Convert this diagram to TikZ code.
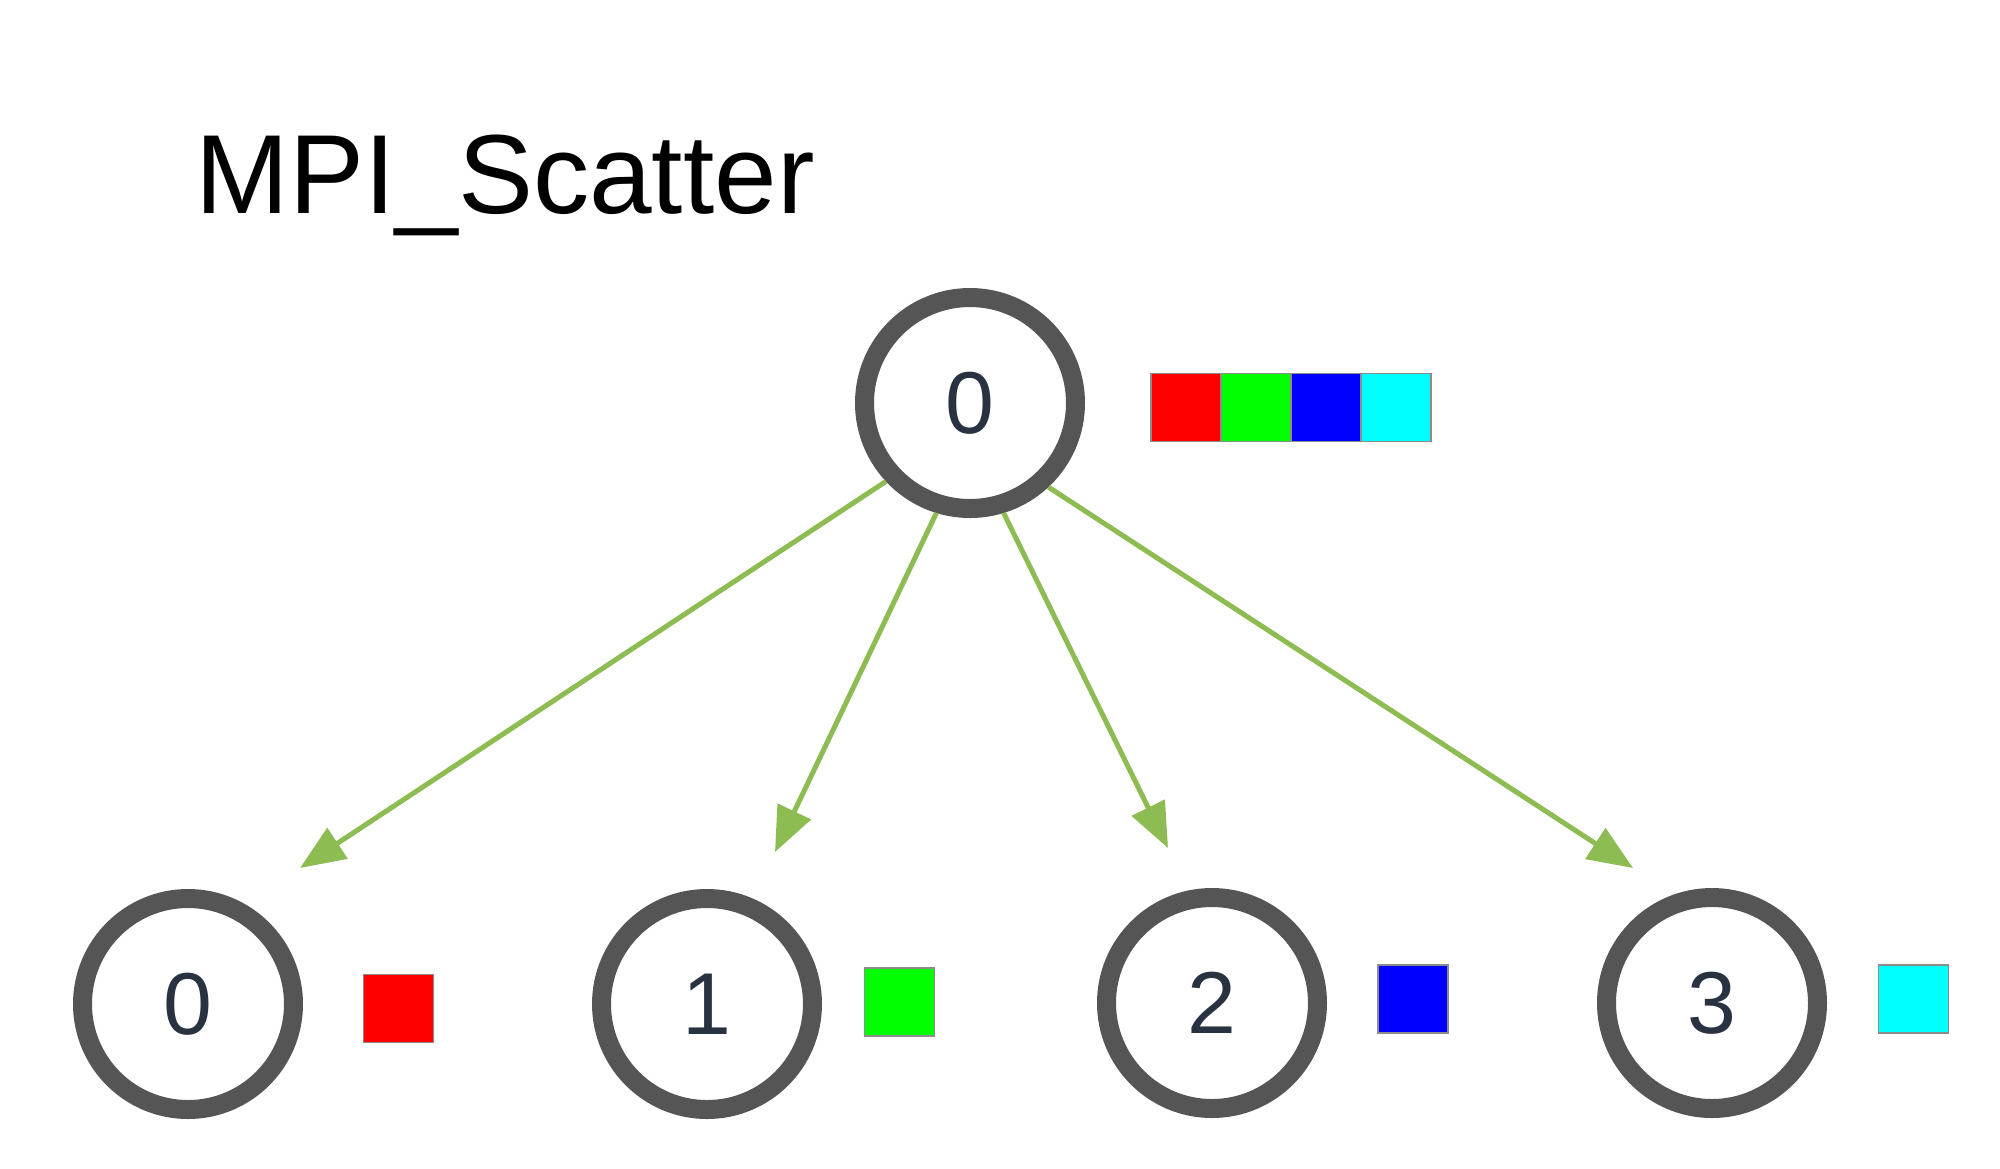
\documentclass[tikz,border=0pt]{standalone}
\usepackage{fontspec}
\setmainfont{Liberation Sans}
\usepackage{xcolor}
\usetikzlibrary{
    shapes.geometric,
    arrows.meta,
    positioning,
    calc
}
\definecolor{ringgray}{RGB}{85,85,85}
\definecolor{digitgray}{RGB}{40,50,65}
\definecolor{arrowgreen}{RGB}{141,188,82}
\definecolor{cyanbox}{RGB}{0,255,255}

\begin{document}
\begin{tikzpicture}[
        proc/.style={draw=ringgray, circle, line width=0.19cm, fill=white, minimum size=2.11cm, inner sep=0pt,
            text=digitgray, font=\fontsize{25}{30}\selectfont},
        chunk/.style={draw=black!45, line width=0.3pt, minimum width=0.70cm, minimum height=0.68cm, inner sep=0pt},
        arrow/.style={-{Triangle[length=0.45cm, width=0.36cm]}, line width=0.05cm, draw=arrowgreen}
    ]
        \useasboundingbox (0,0) rectangle (20,-11.68);

        % Title
        \node[anchor=base west, inner sep=0pt, font=\fontsize{32}{38}\selectfont] (title) at (1.95,-2.13) {MPI\_Scatter};

        % Root process
        \node[proc] (root) at (9.70,-4.03) {0};

        % Send buffer on root
        \node[chunk, fill=red] (s0) at (11.86,-4.075) {};
        \node[chunk, fill=green] (s1) at (12.56,-4.075) {};
        \node[chunk, fill=blue] (s2) at (13.26,-4.075) {};
        \node[chunk, fill=cyanbox] (s3) at (13.96,-4.075) {};

        % Receiving processes
        \node[proc] (p0) at (1.88,-10.04) {0};
        \node[proc] (p1) at (7.07,-10.04) {1};
        \node[proc] (p2) at (12.12,-10.03) {2};
        \node[proc] (p3) at (17.12,-10.03) {3};

        % Received pieces
        \node[chunk, fill=red] (r0) at (3.985,-10.085) {};
        \node[chunk, fill=green] (r1) at (8.995,-10.02) {};
        \node[chunk, fill=blue] (r2) at (14.13,-9.99) {};
        \node[chunk, fill=cyanbox] (r3) at (19.135,-9.99) {};

        % Arrow ends
        \coordinate (e0) at (3.00,-8.68);
        \coordinate (e1) at (7.75,-8.52);
        \coordinate (e2) at (11.68,-8.48);
        \coordinate (e3) at (16.33,-8.68);

        % Arrows
        \foreach \i/\a in {0/223,1/253,2/287,3/313}
            \draw[arrow] (root.\a) -- (e\i);
    \end{tikzpicture}
\end{document}
